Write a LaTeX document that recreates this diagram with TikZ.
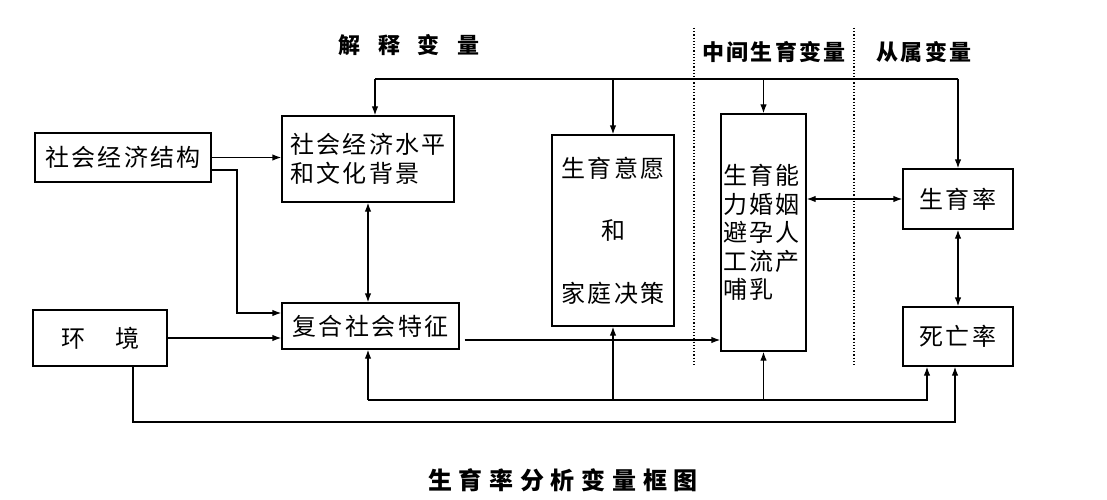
\documentclass[tikz,border=0pt]{standalone}
\usepackage{fontspec}
\newfontfamily\cjk[LetterSpace=10]{Noto Sans CJK SC}
\newfontfamily\cjkw[LetterSpace=28]{Noto Sans CJK SC}
\usetikzlibrary{arrows.meta}
\begin{document}
\begin{tikzpicture}[x=1pt,y=-1pt,
  box/.style={draw, line width=1.3pt, inner sep=0pt, font=\cjk\fontsize{24}{28.5}\selectfont},
  con/.style={line width=1.3pt},
  arr/.style={line width=1.3pt, -{Latex[length=9pt,width=6.5pt]}},
  darr/.style={line width=1.3pt, {Latex[length=9pt,width=6.5pt]}-{Latex[length=9pt,width=6.5pt]}},
  head/.style={inner sep=0pt, font=\cjk\fontsize{22}{26}\selectfont\bfseries},
  sep/.style={line width=1.2pt, dotted}]
\useasboundingbox (0,0) rectangle (1107,500);

% headers
\node[head] (h1) at (409,45) {解\hspace{18pt}释\hspace{18pt}变\hspace{18pt}量};
\node[head] (h2) at (774,52) {中间生育变量};
\node[head] (h3) at (924,52) {从属变量};

% dotted separators
\draw[sep] (694,28) -- (694,367);
\draw[sep] (854,28) -- (854,367);

% boxes
\node[box, minimum width=176pt, minimum height=49pt] (A) at (123,157.5) {社会经济结构};
\node[box, minimum width=172pt, minimum height=86pt, align=left] (B) at (368,159) {社会经济水平\\和文化背景};
\node[box, minimum width=177pt, minimum height=46pt] (C) at (370.5,326) {复合社会特征};
\node[box, minimum width=134pt, minimum height=56pt] (D) at (100,338) {环\hspace{30pt}境};
\node[box, minimum width=122pt, minimum height=191pt, align=center] (E) at (613,230.5) {生育意愿\\[34pt]和\\[34pt]家庭决策};
\node[box, minimum width=85pt, minimum height=237pt, inner sep=2pt, text width=81pt, align=left] (F) at (763.5,232.5) {生育能\\力婚姻\\避孕人\\工流产\\哺乳};
\node[box, minimum width=110pt, minimum height=60pt] (G) at (958,199) {生育率};
\node[box, minimum width=110pt, minimum height=59pt] (H) at (958,336.5) {死亡率};

% top feedback line
\coordinate (t1) at (375,79);
\coordinate (t2) at (958,79);
\draw[con] (t1) -- (t2);
\draw[arr] (t1) -- (t1 |- B.north);
\draw[arr] (t2) -- (G.north);
\draw[arr] (E.north |- t1) -- (E.north);
\draw[arr] (F.north |- t1) -- (F.north);

% left side connections
\draw[arr] (A.east) -- (A.east -| B.west);
\coordinate (a1) at (237,170);
\draw[arr] (A.east |- a1) -- (a1) -- (237,313) -- (C.west |- 0,313);
\draw[darr] (B.south) -- (B.south |- C.north);
\draw[arr] (D.east) -- (D.east -| C.west);
\draw[arr] ([xshift=5pt]C.east |- 0,340) -- (F.west |- 0,340);

% right side
\draw[darr] (G.west -| F.east) -- (G.west);
\draw[darr] (G.south) -- (H.north);

% bottom line 1
\coordinate (b1) at (368,400);
\coordinate (b2) at (927,400);
\draw[arr] (b1) -- (b1 |- C.south);
\draw[arr] (b1) -- (b2) -- (b2 |- H.south);
\draw[arr] (E.south |- b1) -- (E.south);
\draw[arr] (F.south |- b1) -- (F.south);

% bottom line 2
\coordinate (c1) at (133,422);
\coordinate (c2) at (955,422);
\draw[arr] (c1 |- D.south) -- (c1) -- (c2) -- (c2 |- H.south);

% caption
\node[inner sep=0pt, font=\cjkw\fontsize{24}{26}\selectfont\bfseries] (cap) at (563,480) {生育率分析变量框图};
\end{tikzpicture}
\end{document}
